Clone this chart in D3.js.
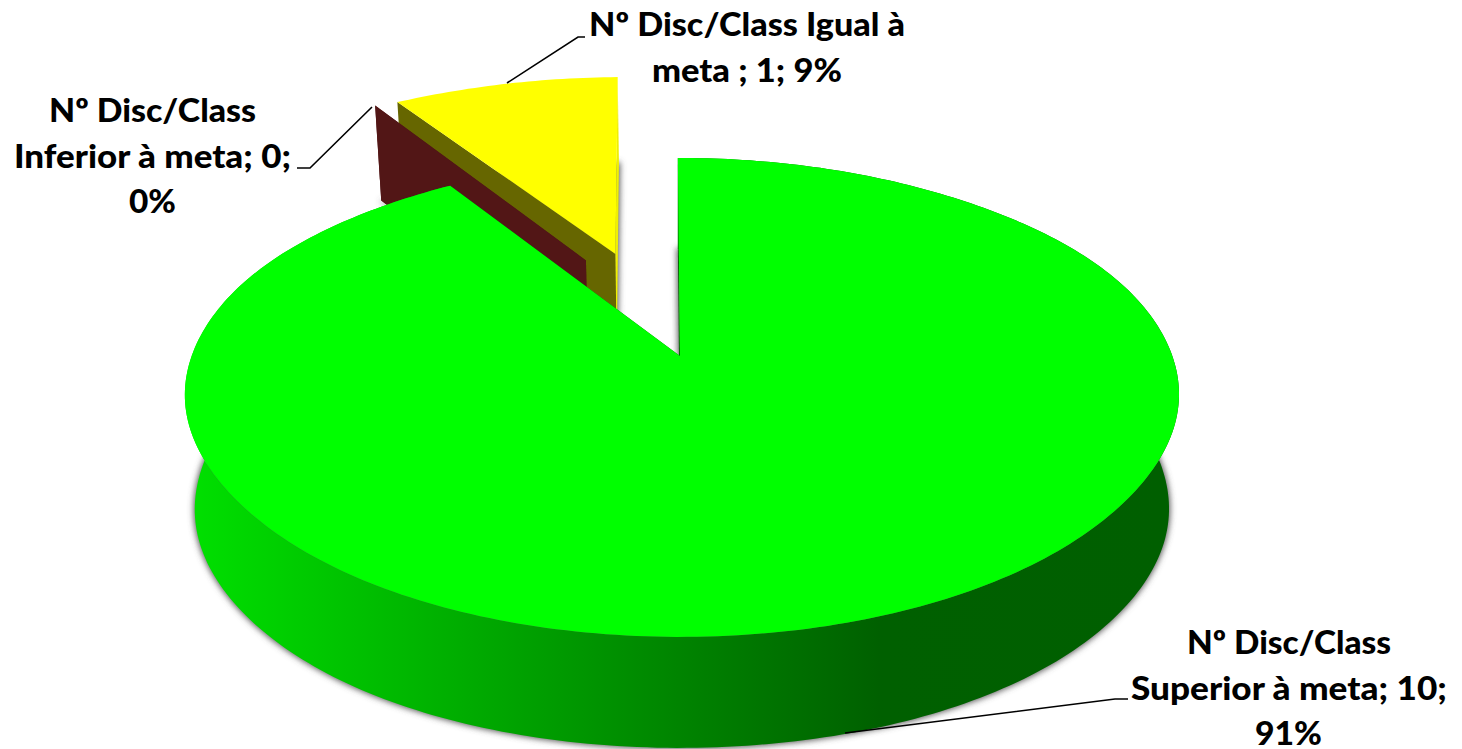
<!DOCTYPE html>
<html><head><meta charset="utf-8">
<script src="https://cdnjs.cloudflare.com/ajax/libs/d3/7.8.5/d3.min.js"></script>
<style>html,body{margin:0;padding:0;background:#fff;overflow:hidden}svg{display:block}
text{font-family:"Lato","Open Sans",sans-serif;font-weight:900;fill:#000;font-size:33px}</style>
</head><body><svg id="c" width="1462" height="749"></svg>
<script>
// ---- chart values
const categories = ["Nº Disc/Class Superior à meta", "Nº Disc/Class Inferior à meta", "Nº Disc/Class Igual à meta"];
const seriesValues = [10, 0, 1];
const sliceColors = ["#00ff00", "#7f2020", "#ffff00"];
const radialWallColors = ["#006400", "#521616", "#666600"];
const labelLines = [
  ["Nº Disc/Class", "Superior à meta; 10;", "91%"],
  ["Nº Disc/Class", "Inferior à meta; 0;", "0%"],
  ["Nº Disc/Class Igual à", "meta ; 1; 9%"]
];

// ---- layout
const apex = {x: 680, y: 356};
const persp = {k: 0.173, A: 484, B: 232.3};
const explodeDist = [0, 0.49, 0.497];
const explodeDir = [0, -25.3, -16.9].map(d => d * Math.PI / 180);
const sliceRadius = [1, 1.04, 1.04];
const sliceTurn = [0, 0, -0.7].map(d => d * Math.PI / 180);
const rotation = -0.3 * Math.PI / 180;
const labelBoxes = [
  [{x0:1187,x1:1391,y:654},{x0:1131,x1:1447,y:700},{x0:1255,x1:1322,y:745}],
  [{x0:49,x1:256,y:122},{x0:14,x1:291,y:168},{x0:129,x1:176,y:213}],
  [{x0:589,x1:905,y:36},{x0:652,x1:842,y:82}]
];
const leaders = [
  [[845,733],[1115,699],[1128,699]],
  [[372,107],[310,168],[297,168]],
  [[507,83],[578,37],[585,37]]
];

const svg = d3.select("#c");
const defs = svg.append("defs");
defs.append("filter").attr("id","soft").attr("x","-5%").attr("y","-5%").attr("width","110%").attr("height","110%")
  .append("feGaussianBlur").attr("stdDeviation",3);

// green side wall shading by horizontal position
const shade = d3.scaleLinear().domain([190,560,700,880,1170]).range(["#00e000","#009a00","#008000","#006000","#005f00"]);
const grad = defs.append("linearGradient").attr("id","wallGreen").attr("gradientUnits","userSpaceOnUse")
  .attr("x1",190).attr("x2",1170).attr("y1",0).attr("y2",0);
shade.domain().forEach(d => grad.append("stop").attr("offset",(d-190)/980).attr("stop-color",shade(d)));

const pie = d3.pie().sort(null).startAngle(rotation).endAngle(rotation + 2*Math.PI);
const arcs = pie(seriesValues);

// projection of a disc point to the screen (top plane / bottom plane)
function topP(u, v){
  const w = 1 - persp.k * v;
  const u2 = u * u;
  const round = Math.sign(u) * 7 * Math.exp(-Math.pow((v-0.35)/0.4, 2)) * u2;
  return [apex.x + persp.A * u / w + 2*u2 + round, apex.y + persp.B * v / w - 8*u2*u2*u2];
}
function botP(u, v){
  const p = topP(u, v);
  return [apex.x + (p[0]-apex.x)*0.98, p[1] + 101 + 10*v + 12*u*u];
}
const line = d3.line();
function sliceGeom(a, i){
  const off = [Math.sin(explodeDir[i])*explodeDist[i], -Math.cos(explodeDir[i])*explodeDist[i]];
  const n = Math.max(1, Math.ceil((a.endAngle-a.startAngle)/(Math.PI/180)));
  const rim = d3.range(n+1).map(j => {
    const t = a.startAngle + sliceTurn[i] + (a.endAngle-a.startAngle)*j/n;
    return [off[0]+sliceRadius[i]*Math.sin(t), off[1]-sliceRadius[i]*Math.cos(t)];
  });
  return {off, rim};
}
const geoms = arcs.map(sliceGeom);
const order = [2,1,0]; // back to front

const shadows = svg.append("g").attr("filter","url(#soft)");
order.forEach(i => {
  const g = geoms[i];
  const pts = [g.off, ...g.rim].map(p => botP(p[0],p[1]));
  shadows.append("path").attr("d",line(pts)+"Z").attr("fill","#555").attr("stroke","#555").attr("stroke-width",2);
});

const body = svg.append("g");
order.forEach(i => {
  const g = geoms[i];
  const first = g.rim[0], last = g.rim[g.rim.length-1];
  [first, last].forEach((edge, e) => {
    const q = [topP(...g.off), topP(...edge), botP(...edge), botP(...g.off)];
    let fill = radialWallColors[i];
    if (i === 2 && e === 1) fill = "#f0f000";
    body.append("path").attr("d",line(q)+"Z").attr("fill",fill);
  });
  if (i === 0) {
    const q = g.rim.map(p => topP(...p)).concat(g.rim.slice().reverse().map(p => botP(...p)));
    body.append("path").attr("d",line(q)+"Z").attr("fill","url(#wallGreen)");
  }
  if (seriesValues[i] > 0) {
    const t = [g.off, ...g.rim].map(p => topP(...p));
    body.append("path").attr("d",line(t)+"Z").attr("fill",sliceColors[i]);
  }
});

// leader lines
svg.append("g").selectAll("path").data(leaders).join("path")
  .attr("d",d=>line(d)).attr("fill","none").attr("stroke","#000").attr("stroke-width",1.6);

// labels
labelLines.forEach((lines,i) => lines.forEach((t,j) => {
  const b = labelBoxes[i][j];
  svg.append("text").attr("x",b.x0).attr("y",b.y).attr("textLength",b.x1-b.x0)
    .attr("lengthAdjust","spacingAndGlyphs").text(t);
}));
</script></body></html>
